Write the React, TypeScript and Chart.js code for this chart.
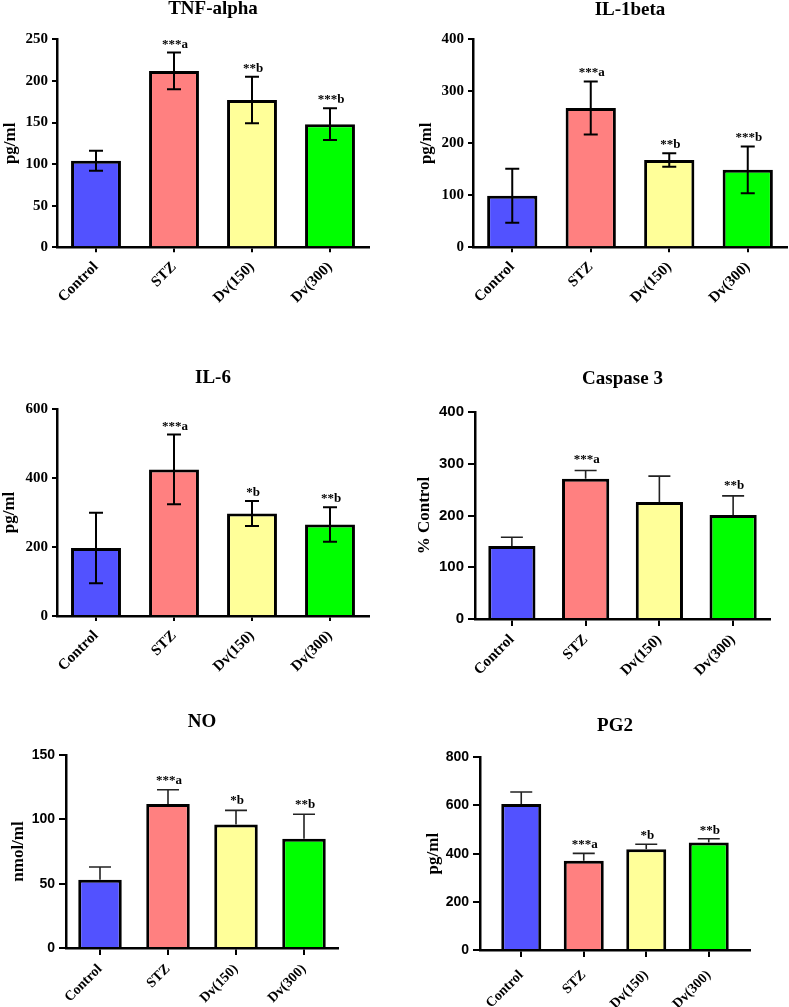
import React, { useEffect, useRef } from "react";
import { Chart, registerables } from "chart.js";

Chart.register(...registerables);

// ---------- data ----------
const categories = ["Control", "STZ", "Dv(150)", "Dv(300)"];

const tnfValues = [104, 212, 177, 148];
const tnfErrors = [12, 22, 28, 19];
const tnfMarks = ["", "***a", "**b", "***b"];
const tnfTicks = [0, 50, 100, 150, 200, 250];

const il1Values = [99, 268, 168, 149];
const il1Errors = [52, 51, 13, 45];
const il1Marks = ["", "***a", "**b", "***b"];
const il1Ticks = [0, 100, 200, 300, 400];

const il6Values = [197, 425, 297, 265];
const il6Errors = [102, 101, 36, 50];
const il6Marks = ["", "***a", "*b", "**b"];
const il6Ticks = [0, 200, 400, 600];

const caspValues = [141, 271, 226, 201];
const caspErrors = [17, 16, 50, 37];
const caspMarks = ["", "***a", "", "**b"];
const caspTicks = [0, 100, 200, 300, 400];

const noValues = [53, 112, 96, 85];
const noErrors = [10, 11, 11, 19];
const noMarks = ["", "***a", "*b", "**b"];
const noTicks = [0, 50, 100, 150];

const pgValues = [606, 371, 418, 446];
const pgErrors = [50, 30, 21, 16];
const pgMarks = ["", "***a", "*b", "**b"];
const pgTicks = [0, 200, 400, 600, 800];

// ---------- styles ----------
const barColors = ["#5252FF", "#FF8080", "#FFFF99", "#00FF00"];
const SERIF = "'Liberation Serif', 'Times New Roman', serif";
const SANS = "'Liberation Sans', Arial, sans-serif";
const LH = 1.2;

type Panel = {
  title: string;
  yTitle: string;
  values: number[];
  errors: number[];
  marks: string[];
  ticks: number[];
  twoSided: boolean;
  canvas: { x: number; y: number; w: number; h: number };
  plot: { left: number; right: number; top: number; bottom: number };
  titleY: number;
  yTitleX: number;
  tickFamily: string;
  tickSize: number;
  tickLen: number;
  xLabelSize: number;
  xLabelPad: number;
  cap: number;
  errColor: string;
  errWidth: number;
  markGap: number;
  edge?: number;
};

const col1 = { x: 0, w: 395 };
const col2 = { x: 395, w: 394 };
const row1 = { y: -5, h: 340 };
const row2 = { y: 335, h: 365 };
const row3 = { y: 700, h: 307 };

const panels: Panel[] = [
  {
    title: "TNF-alpha", yTitle: "pg/ml", values: tnfValues, errors: tnfErrors, marks: tnfMarks, ticks: tnfTicks,
    twoSided: true, canvas: { ...col1, ...row1 }, plot: { left: 57, right: 369, top: 39.3, bottom: 247.3 },
    titleY: 9, yTitleX: 11, tickFamily: SERIF, tickSize: 15, tickLen: 5, xLabelSize: 15, xLabelPad: 6,
    cap: 7, errColor: "#000", errWidth: 2, markGap: 5,
  },
  {
    title: "IL-1beta", yTitle: "pg/ml", values: il1Values, errors: il1Errors, marks: il1Marks, ticks: il1Ticks,
    twoSided: true, canvas: { ...col2, ...row1 }, plot: { left: 473, right: 787, top: 39.3, bottom: 247.3 },
    titleY: 10, yTitleX: 427, tickFamily: SERIF, tickSize: 15, tickLen: 5, xLabelSize: 15, xLabelPad: 6,
    cap: 7, errColor: "#000", errWidth: 2, markGap: 5,
  },
  {
    title: "IL-6", yTitle: "pg/ml", values: il6Values, errors: il6Errors, marks: il6Marks, ticks: il6Ticks,
    twoSided: true, canvas: { ...col1, ...row2 }, plot: { left: 57, right: 369, top: 409, bottom: 616 },
    titleY: 378, yTitleX: 10, tickFamily: SERIF, tickSize: 15, tickLen: 5, xLabelSize: 15, xLabelPad: 6,
    cap: 7, errColor: "#000", errWidth: 2, markGap: 5,
  },
  {
    title: "Caspase 3", yTitle: "% Control", values: caspValues, errors: caspErrors, marks: caspMarks, ticks: caspTicks,
    twoSided: false, canvas: { ...col2, ...row2 }, plot: { left: 475, right: 770, top: 412, bottom: 619 },
    titleY: 379, yTitleX: 425, tickFamily: SANS, tickSize: 15, tickLen: 7, xLabelSize: 15, xLabelPad: 5,
    cap: 11, errColor: "#222", errWidth: 1.6, markGap: 7,
  },
  {
    title: "NO", yTitle: "nmol/ml", values: noValues, errors: noErrors, marks: noMarks, ticks: noTicks,
    twoSided: false, canvas: { ...col1, ...row3 }, plot: { left: 66, right: 338, top: 755, bottom: 948 },
    titleY: 722, yTitleX: 19, tickFamily: SANS, tickSize: 14, tickLen: 7, xLabelSize: 14, xLabelPad: 6,
    cap: 11, errColor: "#222", errWidth: 1.6, markGap: 6,
  },
  {
    title: "PG2", yTitle: "pg/ml", values: pgValues, errors: pgErrors, marks: pgMarks, ticks: pgTicks,
    twoSided: false, canvas: { ...col2, ...row3 }, plot: { left: 480, right: 750, top: 757.3, bottom: 950 },
    titleY: 726, yTitleX: 434, tickFamily: SANS, tickSize: 14, tickLen: 7, xLabelSize: 14, xLabelPad: 10,
    cap: 11, errColor: "#222", errWidth: 1.6, markGap: 5, edge: 0.66,
  },
];

function makeConfig(p: Panel): any {
  const titleSize = 19;
  const yTitleSize = 17;
  const titleLH = titleSize * LH;
  const yTitleLH = yTitleSize * LH;
  const padLeft = p.yTitleX - p.canvas.x - yTitleLH / 2;
  const yWidth = p.plot.left - p.canvas.x - padLeft;
  const xHeight = p.canvas.y + p.canvas.h - p.plot.bottom;
  const padRight = p.canvas.x + p.canvas.w - p.plot.right;
  const tk = p.ticks;

  const errorPlugin = {
    id: "errorBars",
    afterDatasetsDraw(chart: any) {
      const ctx = chart.ctx;
      const meta = chart.getDatasetMeta(0);
      const ys = chart.scales.y;
      ctx.save();
      p.values.forEach((v, i) => {
        const bar = meta.data[i];
        const x = bar.x;
        const hi = ys.getPixelForValue(v + p.errors[i]);
        const lo = p.twoSided ? ys.getPixelForValue(v - p.errors[i]) : ys.getPixelForValue(v);
        ctx.strokeStyle = p.errColor;
        ctx.lineWidth = p.errWidth;
        ctx.lineCap = "butt";
        ctx.beginPath();
        ctx.moveTo(x, lo);
        ctx.lineTo(x, hi);
        ctx.moveTo(x - p.cap, hi);
        ctx.lineTo(x + p.cap, hi);
        if (p.twoSided) {
          ctx.moveTo(x - p.cap, lo);
          ctx.lineTo(x + p.cap, lo);
        }
        ctx.stroke();
        if (p.marks[i]) {
          ctx.fillStyle = "#000";
          ctx.font = `bold 13px ${SERIF}`;
          ctx.textAlign = "center";
          ctx.textBaseline = "alphabetic";
          ctx.fillText(p.marks[i], x + 1, hi - p.markGap);
        }
      });
      ctx.restore();
    },
  };

  return {
    type: "bar",
    data: {
      labels: categories,
      datasets: [
        {
          data: p.values,
          backgroundColor: barColors,
          borderColor: "#000",
          borderWidth: 3,
          borderSkipped: "start",
          barPercentage: 0.64,
          categoryPercentage: 1,
        },
      ],
    },
    options: {
      responsive: false,
      animation: false,
      devicePixelRatio: 1,
      layout: { padding: { left: padLeft, right: padRight, top: 0, bottom: 0 } },
      plugins: {
        legend: { display: false },
        tooltip: { enabled: false },
        title: {
          display: true,
          text: p.title,
          fullSize: false,
          color: "#000",
          font: { family: SERIF, size: titleSize, weight: "bold", lineHeight: LH },
          padding: {
            top: p.titleY - p.canvas.y - titleLH / 2,
            bottom: p.plot.top - p.titleY - titleLH / 2,
          },
        },
      },
      scales: {
        x: {
          type: "category",
          offset: true,
          afterFit: (s: any) => {
            s.height = xHeight;
          },
          afterBuildTicks: (s: any) => {
            if (p.edge !== undefined) {
              s._startValue = -p.edge;
              s._valueRange = categories.length - 1 + 2 * p.edge;
            }
          },
          grid: {
            offset: false,
            drawOnChartArea: false,
            drawTicks: true,
            tickLength: p.tickLen,
            color: "#000",
            lineWidth: 2,
          },
          border: { display: true, color: "#000", width: 2.5 },
          ticks: {
            autoSkip: false,
            maxRotation: 45,
            minRotation: 45,
            color: "#000",
            padding: p.xLabelPad,
            font: { family: SERIF, size: p.xLabelSize, weight: "bold" },
          },
        },
        y: {
          min: tk[0],
          max: tk[tk.length - 1],
          afterFit: (s: any) => {
            s.width = yWidth;
          },
          afterBuildTicks: (s: any) => {
            s.ticks = tk.map((v) => ({ value: v }));
          },
          grid: {
            drawOnChartArea: false,
            drawTicks: true,
            tickLength: p.tickLen,
            color: "#000",
            lineWidth: 2,
          },
          border: { display: true, color: "#000", width: 2.5 },
          ticks: {
            color: "#000",
            padding: 4,
            font: { family: p.tickFamily, size: p.tickSize, weight: "bold" },
          },
          title: {
            display: true,
            text: p.yTitle,
            color: "#000",
            padding: 0,
            font: { family: SERIF, size: yTitleSize, weight: "bold", lineHeight: LH },
          },
        },
      },
    },
    plugins: [errorPlugin],
  };
}

function PanelChart({ p }: { p: Panel }) {
  const ref = useRef<HTMLCanvasElement | null>(null);
  useEffect(() => {
    if (!ref.current) return;
    const chart = new Chart(ref.current, makeConfig(p));
    return () => chart.destroy();
  }, [p]);
  return (
    <canvas
      ref={ref}
      width={p.canvas.w}
      height={p.canvas.h}
      style={{
        position: "absolute",
        left: p.canvas.x,
        top: p.canvas.y,
        width: p.canvas.w,
        height: p.canvas.h,
        display: "block",
      }}
    />
  );
}

export default function App() {
  return (
    <div
      style={{
        position: "absolute",
        left: 0,
        top: 0,
        width: 789,
        height: 1007,
        overflow: "hidden",
        background: "#fff",
      }}
    >
      {panels.map((p) => (
        <PanelChart key={p.title} p={p} />
      ))}
    </div>
  );
}
